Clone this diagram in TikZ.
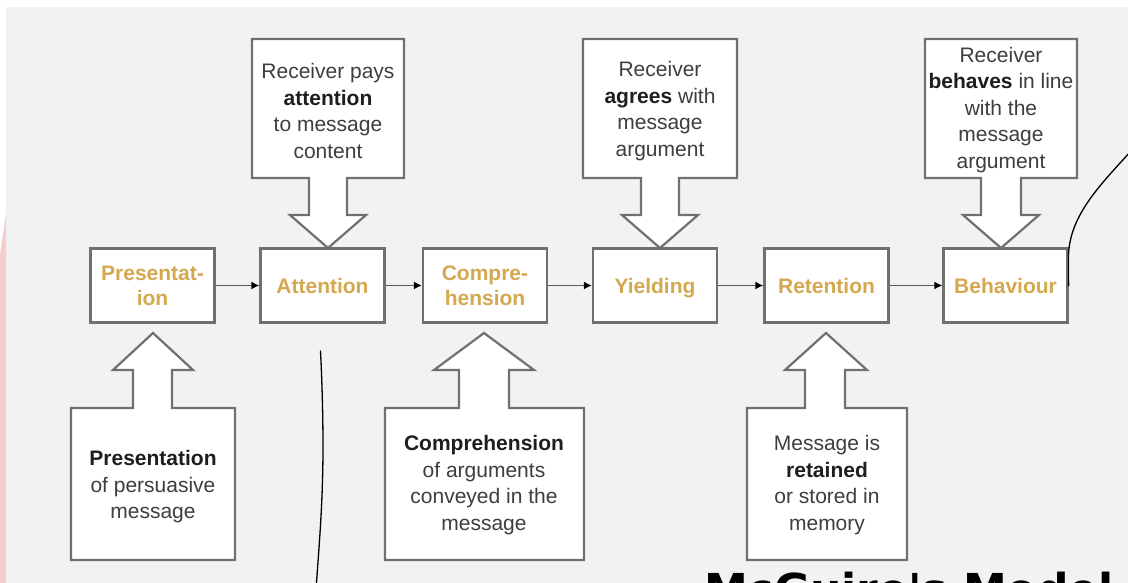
\documentclass[tikz,border=0pt]{standalone}
\usepackage{fontspec}
\setmainfont{Liberation Sans}
\newfontfamily\titlefont{DejaVu Sans}
\usetikzlibrary{arrows.meta}
\definecolor{bg}{RGB}{242,242,242}
\definecolor{pinkish}{RGB}{244,206,206}
\definecolor{gold}{RGB}{212,168,78}
\definecolor{txt}{RGB}{62,62,62}
\definecolor{dark}{RGB}{30,30,30}
\definecolor{edge}{RGB}{112,112,112}
\begin{document}
\begin{tikzpicture}[x=1pt,y=-1pt,
  stage/.style={draw=edge,line width=2.2pt,fill=white,minimum width=124pt,minimum height=74pt,inner sep=0pt,text=gold,font=\bfseries\fontsize{21}{25}\selectfont,align=center},
  callout/.style={draw=edge,line width=2.2pt,fill=white,line join=miter},
  ctext/.style={text=txt,font=\fontsize{21}{26.5}\selectfont,align=center,inner sep=0pt},
  flow/.style={draw=edge!80!black,line width=1.8pt,-{Latex[length=8pt,width=8pt,black]}},
  pen/.style={draw=black,line width=1.3pt,line cap=round}]
\useasboundingbox (0,0) rectangle (1128,583);
\clip (0,0) rectangle (1128,583);
% background
\fill[white] (0,0) rectangle (1128,583);
\fill[bg] (6,7) rectangle (1128,583);
\fill[pinkish] (0,255) -- (6,213) -- (6,583) -- (0,583) -- cycle;

% top callouts
\draw[callout] (252,39) -- (404,39) -- (404,178) -- (347,178) -- (347,215) -- (366,215) -- (328,248) -- (290,215) -- (309,215) -- (309,178) -- (252,178) -- cycle;
\draw[callout] (583,39) -- (737,39) -- (737,178) -- (679,178) -- (679,215) -- (698,215) -- (660,248) -- (622,215) -- (641,215) -- (641,178) -- (583,178) -- cycle;
\draw[callout] (925,39) -- (1077,39) -- (1077,178) -- (1021,178) -- (1021,215) -- (1039,215) -- (1001,248) -- (963,215) -- (981,215) -- (981,178) -- (925,178) -- cycle;

% bottom callouts
\draw[callout] (71,560) -- (235,560) -- (235,408) -- (172,408) -- (172,370) -- (193,370) -- (153,333) -- (113,370) -- (133,370) -- (133,408) -- (71,408) -- cycle;
\draw[callout] (385,560) -- (584,560) -- (584,408) -- (509,408) -- (509,370) -- (534,370) -- (484,333) -- (434,370) -- (459,370) -- (459,408) -- (385,408) -- cycle;
\draw[callout] (747,560) -- (907,560) -- (907,408) -- (845,408) -- (845,370) -- (867,370) -- (826,333) -- (785,370) -- (805,370) -- (805,408) -- (747,408) -- cycle;

% callout texts
\node[ctext] (tatt) at (328,111) {Receiver pays\\\textbf{\color{dark}attention}\\to message\\content};
\node[ctext] (tyie) at (660,111) {Receiver\\\textbf{\color{dark}agrees} with\\message\\argument};
\node[ctext] (tbeh) at (1001,110) {Receiver\\\textbf{\color{dark}behaves} in line\\with the\\message\\argument};
\node[ctext] (tpre) at (153,487) {\textbf{\color{dark}Presentation}\\of persuasive\\message};
\node[ctext] (tcom) at (484,485) {\textbf{\color{dark}Comprehension}\\of arguments\\conveyed in the\\message};
\node[ctext] (tret) at (827,485) {Message is\\\textbf{\color{dark}retained}\\or stored in\\memory};

% stages
\node[stage] (pre) at (152.5,285.5) {Presentat-\\ion};
\node[stage] (att) at (322.5,285.5) {Attention};
\node[stage] (com) at (485,285.5) {Compre-\\hension};
\node[stage] (yie) at (655,285.5) {\raisebox{0pt}[\height][0pt]{Yielding}};
\node[stage] (ret) at (826.5,285.5) {Retention};
\node[stage] (beh) at (1005.5,285.5) {Behaviour};

\draw[flow] (pre) -- (att);
\draw[flow] (att) -- (com);
\draw[flow] (com) -- (yie);
\draw[flow] (yie) -- (ret);
\draw[flow] (ret) -- (beh);

% freehand strokes
\draw[pen] (beh.east) -- (1068.5,255) .. controls (1070,215) and (1100,185) .. (1132,150);
\draw[pen] (320.5,351) .. controls (323,400) and (323.5,450) .. (322.5,480) .. controls (321.5,520) and (318,560) .. (316,590);

% title (cut off by the bottom edge)
\node[anchor=base west,inner sep=0pt,text=black,font=\titlefont\bfseries\fontsize{44}{44}\selectfont] (title) at (704,605) {McGuire's Model};
\end{tikzpicture}
\end{document}
